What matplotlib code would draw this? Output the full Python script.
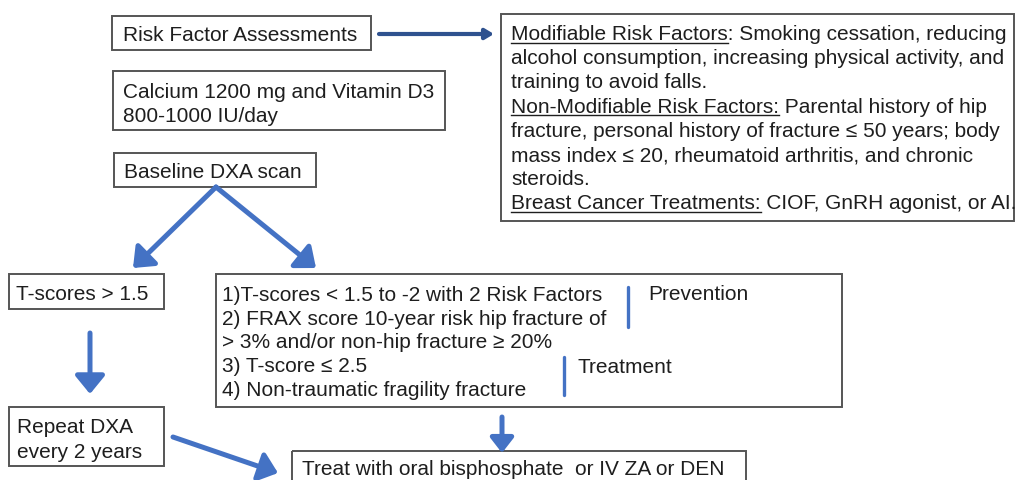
import matplotlib
matplotlib.use("Agg")
import matplotlib.pyplot as plt
from matplotlib.patches import Rectangle
from matplotlib.font_manager import FontProperties

# texts of the flowchart
box_texts = [
    ["Risk Factor Assessments"],
    ["Calcium 1200 mg and Vitamin D3", "800-1000 IU/day"],
    ["Baseline DXA scan"],
    ["T-scores > 1.5"],
    ["Repeat DXA", "every 2 years"],
    ["Treat with oral bisphosphate  or IV ZA or DEN"],
]
criteria_lines = [
    "1)T-scores < 1.5 to -2 with 2 Risk Factors",
    "2) FRAX score 10-year risk hip fracture of",
    "> 3% and/or non-hip fracture \u2265 20%",
    "3) T-score \u2264 2.5",
    "4) Non-traumatic fragility fracture",
]
group_labels = ["Prevention", "Treatment"]
risk_lines = [
    "Modifiable Risk Factors: Smoking cessation, reducing",
    "alcohol consumption, increasing physical activity, and",
    "training to avoid falls.",
    "Non-Modifiable Risk Factors: Parental history of hip",
    "fracture, personal history of fracture \u2264 50 years; body",
    "mass index \u2264 20, rheumatoid arthritis, and chronic",
    "steroids.",
    "Breast Cancer Treatments: CIOF, GnRH agonist, or AI.",
]
underlined = {0: "Modifiable Risk Factors", 3: "Non-Modifiable Risk Factors:",
              7: "Breast Cancer Treatments:"}

# layout in pixels (x0, y0, x1, y1), text x, first baseline
boxes = [
    (112, 16, 371, 50, 123, 41),
    (113, 71, 445, 130, 123, 98),
    (114, 153, 316, 187, 124, 178),
    (9, 274, 164, 309, 16, 300),
    (9, 407, 164, 466, 17, 433),
    (292, 451, 746, 490, 302, 475),
]

FS = 15.0
TXT = "#1e1e1e"
EDGE = "#555555"
BLUE = "#4472C4"
NAVY = "#2F528F"
font = FontProperties(family="Liberation Sans", size=FS)

fig = plt.figure(figsize=(10.15, 4.8), dpi=100)
ax = fig.add_axes([0, 0, 1, 1])
ax.set_xlim(0, 1015)
ax.set_ylim(480, 0)
ax.axis("off")
renderer = fig.canvas.get_renderer()


def box(x0, y0, x1, y1):
    ax.add_patch(Rectangle((x0, y0), x1 - x0, y1 - y0, fill=False,
                           edgecolor=EDGE, lw=1.4))


def write(x, y, s):
    ax.text(x, y, s, fontproperties=font, color=TXT, va="baseline", ha="left")


for lines, (x0, y0, x1, y1, tx, ty) in zip(box_texts, boxes):
    box(x0, y0, x1, y1)
    for i, s in enumerate(lines):
        write(tx, ty + 24.5 * i, s)

# risk factor box
box(501, 14, 1014, 221)
for i, s in enumerate(risk_lines):
    y = 40 + 24.2 * i
    write(511, y, s)
    if i in underlined:
        w, h, d = renderer.get_text_width_height_descent(underlined[i], font, ismath=False)
        ax.plot([511, 511 + w], [y + 2.5, y + 2.5], color=TXT, lw=1.0)

# criteria box
box(216, 274, 842, 407)
for i, s in enumerate(criteria_lines):
    write(222, 301 + 23.7 * i, s)
ax.plot([628, 628], [287, 327], color=BLUE, lw=2.4, solid_capstyle="round")
ax.plot([564, 564], [357, 395], color=BLUE, lw=2.4, solid_capstyle="round")
write(648, 300, group_labels[0])
write(578, 373, group_labels[1])

# arrows
def arrow(x0, y0, x1, y1, color=BLUE, lw=3.6, hl=1.1, hw=0.9):
    ax.annotate("", xy=(x1, y1), xytext=(x0, y0),
                arrowprops=dict(arrowstyle=f"-|>,head_length={hl},head_width={hw}",
                                color=color, lw=lw, shrinkA=0, shrinkB=0))


arrow(379, 34, 494, 34, color=NAVY, lw=3.0, hl=0.5, hw=0.3)
arrow(216, 187, 133, 268)
arrow(216, 187, 316, 268)
arrow(90, 333, 90, 394)
arrow(173, 437, 278, 473)
arrow(502, 417, 502, 453, hl=0.9, hw=0.7)

fig.savefig("out.png", dpi=100)
